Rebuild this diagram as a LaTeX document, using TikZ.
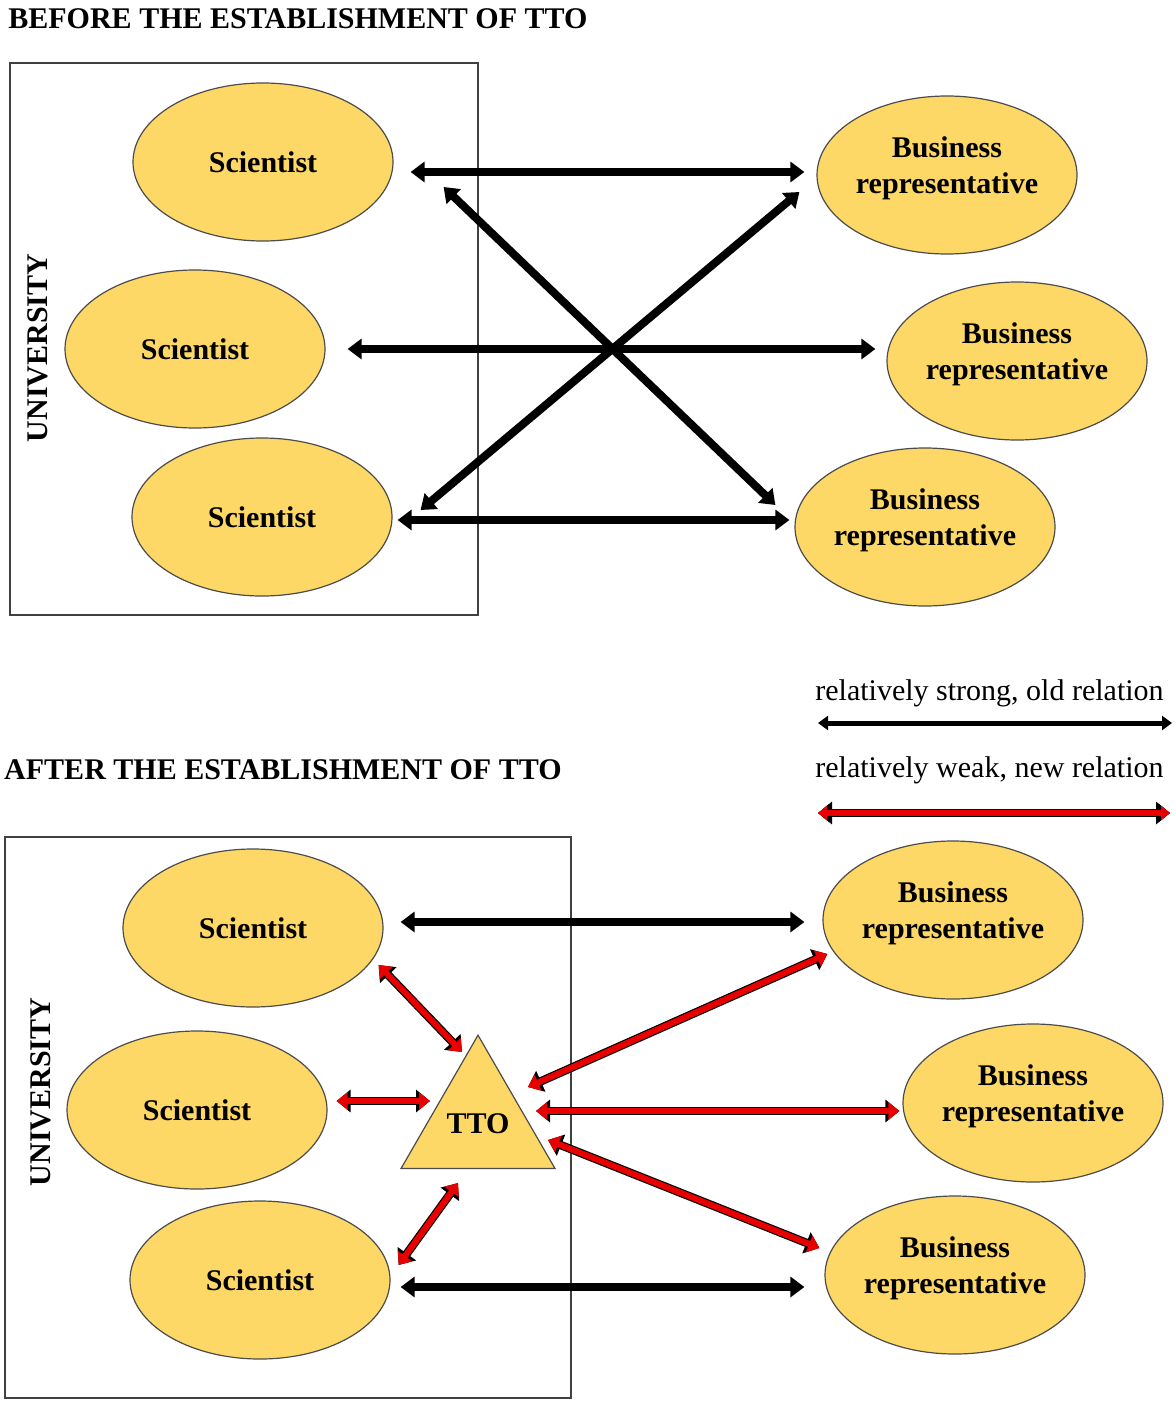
\documentclass[tikz,border=0pt]{standalone}
\usepackage{fontspec}
\setmainfont{Liberation Serif}
\usepackage{tikz}
\usetikzlibrary{arrows.meta,positioning,shapes.geometric}
\definecolor{ellfill}{RGB}{253,216,102}
\definecolor{relred}{RGB}{232,0,0}
\newcommand{\labelfont}{\fontsize{15}{18}\selectfont}
\tikzset{%
	scientist/.style = {draw=black!70, ellipse, fill=ellfill, line width=0.6pt, minimum width=130pt, minimum height=79pt, font=\labelfont\bfseries}, % University side
	business/.style  = {scientist, align=center, inner sep=0pt, text depth=10pt}, % Business side
	tto/.style       = {draw=black!70, regular polygon, regular polygon sides=3, fill=ellfill, line width=0.6pt, minimum size=82pt, inner sep=0pt, font=\labelfont\bfseries},
	unibox/.style    = {draw=black!75, line width=0.7pt},
	unilabel/.style  = {rotate=90, inner sep=0pt, font=\labelfont\bfseries},
	heading/.style   = {inner sep=0pt, font=\labelfont\bfseries},
	keytext/.style   = {inner sep=0pt, font=\labelfont},
	strongrel/.style = {line width=4pt, {Triangle[length=7pt,width=10pt]}-{Triangle[length=7pt,width=10pt]}}, % old relation
	keyrel/.style    = {line width=2.5pt, {Triangle[length=5pt,width=7pt]}-{Triangle[length=5pt,width=7pt]}},
	weakrel/.style   = {draw=relred, line width=3pt, {Triangle[length=5.5pt,width=8.5pt]}-{Triangle[length=5.5pt,width=8.5pt]},
		preaction={draw=black, line width=4.2pt, {Triangle[length=7pt,width=11pt]}-{Triangle[length=7pt,width=11pt]}}}, % new relation
	keyweak/.style   = {weakrel, line width=2.6pt, {Triangle[length=4.5pt,width=7pt]}-{Triangle[length=4.5pt,width=7pt]},
		preaction={draw=black, line width=3.6pt, {Triangle[length=5.5pt,width=8.5pt]}-{Triangle[length=5.5pt,width=8.5pt]}}},
}

\begin{document}
\begin{tikzpicture}[x=0.5pt, y=-0.5pt]
	\useasboundingbox (0,0) rectangle (1176,1402);

	% before the TTO
	\node[heading, anchor=west] (before) at (8,19) {BEFORE THE ESTABLISHMENT OF TTO};
	\draw[unibox] (10,63) rectangle (478,615);
	\node[unilabel] (uni1) at (38,348) {UNIVERSITY};
	\node[scientist] (s1) at (263,162) {Scientist};
	\node[scientist] (s2) at (195,349) {Scientist};
	\node[scientist] (s3) at (262,517) {Scientist};
	\node[business] (b1) at (947,175) {Business\\representative};
	\node[business] (b2) at (1017,361) {Business\\representative};
	\node[business] (b3) at (925,527) {Business\\representative};

	\draw[strongrel] ([shift={(17,10)}]s1.east) -- ([shift={(-12,-3)}]b1.west);
	\draw[strongrel] ([shift={(22,0)}]s2.east) -- ([shift={(-11,-12)}]b2.west);
	\draw[strongrel] ([shift={(5,3)}]s3.east) -- ([shift={(-5,-7)}]b3.west);
	\draw[strongrel] ([shift={(50,25)}]s1.east) -- ([shift={(-19,-22)}]b3.west);
	\draw[strongrel] ([shift={(28,-7)}]s3.east) -- ([shift={(-17,17)}]b1.west);

	% legend
	\node[keytext, anchor=west] (key1) at (815,693) {relatively strong, old relation};
	\node[keytext, anchor=west] (key2) at (815,770) {relatively weak, new relation};
	\coordinate (k1a) at (818,723);
	\coordinate (k1b) at (1172,723);
	\coordinate (k2a) at (818,813);
	\coordinate (k2b) at (1170,813);
	\draw[keyrel] (k1a) -- (k1b);
	\draw[keyweak] (k2a) -- (k2b);

	% after the TTO
	\node[heading, anchor=east] (after) at (562,770) {AFTER THE ESTABLISHMENT OF TTO};
	\draw[unibox] (5,837) rectangle (571,1398);
	\node[unilabel] (uni2) at (41,1092) {UNIVERSITY};
	\node[scientist] (s4) at (253,928) {Scientist};
	\node[scientist] (s5) at (197,1110) {Scientist};
	\node[scientist] (s6) at (260,1280) {Scientist};
	\node[tto] (tto) at (478,1124) {TTO};
	\node[business] (b4) at (953,920) {Business\\representative};
	\node[business] (b5) at (1033,1103) {Business\\representative};
	\node[business] (b6) at (955,1275) {Business\\representative};

	\draw[strongrel] ([shift={(17,-6)}]s4.east) -- ([shift={(-18,2)}]b4.west);
	\draw[strongrel] ([shift={(10,7)}]s6.east) -- ([shift={(-20,12)}]b6.west);
	\draw[weakrel] ([shift={(-5,37)}]s4.east) -- ([shift={(-16,-72)}]tto.center);
	\draw[weakrel] ([shift={(9,-9)}]s5.east) -- ([shift={(-48,-23)}]tto.center);
	\draw[weakrel] ([shift={(8,-15)}]s6.east) -- ([shift={(-20,59)}]tto.center);
	\draw[weakrel] ([shift={(50,-37)}]tto.center) -- ([shift={(5,34)}]b4.west);
	\draw[weakrel] ([shift={(58,-13)}]tto.center) -- ([shift={(-3,8)}]b5.west);
	\draw[weakrel] ([shift={(70,16)}]tto.center) -- ([shift={(-5,-27)}]b6.west);
\end{tikzpicture}
\end{document}
